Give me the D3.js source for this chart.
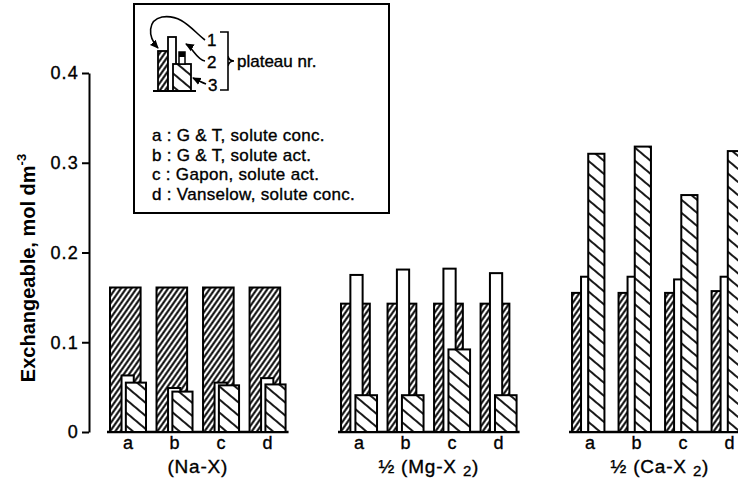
<!DOCTYPE html>
<html>
<head>
<meta charset="utf-8">
<script src="https://cdn.jsdelivr.net/npm/d3@7"></script>
<style>
  html, body { margin: 0; padding: 0; background: #fff; }
  svg text { font-family: "Liberation Sans", Arial, Helvetica, sans-serif; fill: #000; }
  svg text.heavy { stroke: #000; stroke-width: 0.35px; }
</style>
</head>
<body>
<svg id="chart" width="738" height="490"></svg>
<script>
// Exchangeable cation amounts per plateau, for each exchange formulation (a-d)
const groups = ["Na-X", "Mg-X2", "Ca-X2"];
const methods = ["a", "b", "c", "d"];
// plateau 1 (forward hatch), plateau 2 (open), plateau 3 (back hatch); one row per group
const plateau1 = [
  [0.161, 0.161, 0.161, 0.161],
  [0.143, 0.143, 0.143, 0.143],
  [0.155, 0.155, 0.155, 0.157]
];
const plateau2 = [
  [0.063, 0.049, 0.055, 0.060],
  [0.175, 0.181, 0.182, 0.177],
  [0.173, 0.173, 0.170, 0.173]
];
const plateau3 = [
  [0.055, 0.045, 0.052, 0.053],
  [0.041, 0.041, 0.092, 0.041],
  [0.310, 0.318, 0.264, 0.313]
];
const yTicks = [0, 0.1, 0.2, 0.3, 0.4];
const legendLines = [
  "a : G & T, solute conc.",
  "b : G & T, solute act.",
  "c : Gapon, solute act.",
  "d : Vanselow, solute conc."
];

const svg = d3.select("#chart");
const defs = svg.append("defs");

// dense forward hatch "/"
const fwd = defs.append("pattern").attr("id", "hatchFwd")
  .attr("patternUnits", "userSpaceOnUse").attr("width", 4.3).attr("height", 10)
  .attr("patternTransform", "rotate(35)");
fwd.append("rect").attr("width", 4.3).attr("height", 10).attr("fill", "#fff");
fwd.append("line").attr("x1", 2.15).attr("x2", 2.15).attr("y1", 0).attr("y2", 10)
  .attr("stroke", "#000").attr("stroke-width", 2);

// sparse back hatch "\"
const back = defs.append("pattern").attr("id", "hatchBack")
  .attr("patternUnits", "userSpaceOnUse").attr("width", 10).attr("height", 10)
  .attr("patternTransform", "rotate(-50)");
back.append("rect").attr("width", 10).attr("height", 10).attr("fill", "#fff");
back.append("line").attr("x1", 5).attr("x2", 5).attr("y1", 0).attr("y2", 10)
  .attr("stroke", "#000").attr("stroke-width", 1.8);

defs.append("marker").attr("id", "arrow")
  .attr("viewBox", "0 0 10 10").attr("refX", 8).attr("refY", 5)
  .attr("markerWidth", 6).attr("markerHeight", 6).attr("orient", "auto")
  .append("path").attr("d", "M0,1 L9,5 L0,9 z").attr("fill", "#000");

// scales
const y = d3.scaleLinear().domain([0, 0.4]).range([432, 73]);
const gx = d3.scaleBand().domain(groups).range([110, 747.6]).paddingInner(0.24);
const mx = d3.scaleBand().domain(methods).range([0, gx.bandwidth()]).paddingInner(0.226);
const bw = mx.bandwidth();

// horizontal placement of the three plateau bars inside one slot (fractions of slot width)
const slotLayout = [
  { p1: [0, 0.85], p2: [0.32, 0.66], p3: [0.44, 1.0] },
  { p1: [0, 0.80], p2: [0.26, 0.60], p3: [0.40, 1.0] },
  { p1: [0, 0.62], p2: [0.25, 0.46], p3: [0.45, 0.90] }
];

// y axis
const yAxis = svg.append("g").attr("transform", "translate(89,0)")
  .call(d3.axisLeft(y).tickValues(yTicks)
    .tickFormat(d => d === 0 ? "0" : d.toFixed(1))
    .tickSize(7).tickSizeOuter(0).tickPadding(3));
yAxis.select(".domain").attr("stroke", "#000").attr("stroke-width", 2);
yAxis.selectAll(".tick line").attr("stroke", "#000").attr("stroke-width", 2);
yAxis.selectAll(".tick text").attr("font-size", 18).attr("font-family", null)
  .attr("letter-spacing", 1.2).attr("class", "heavy");

// y title
const yTitle = svg.append("text")
  .attr("transform", "translate(35,268) rotate(-90)")
  .attr("text-anchor", "middle").attr("font-size", 20).attr("font-weight", "bold");
yTitle.append("tspan").text("Exchangeable, mol dm");
yTitle.append("tspan").attr("font-size", 13).attr("dy", -9).text("-3");

// bars
groups.forEach((g, gi) => {
  const g0 = gx(g);
  const lay = slotLayout[gi];
  const grp = svg.append("g").attr("class", "group");

  // baseline
  grp.append("line")
    .attr("x1", g0 - 3).attr("x2", g0 + gx.bandwidth() + 3)
    .attr("y1", y(0)).attr("y2", y(0))
    .attr("stroke", "#000").attr("stroke-width", 2.4);

  methods.forEach((m, mi) => {
    const s0 = g0 + mx(m);
    const specs = [
      { v: plateau1[gi][mi], span: lay.p1, fill: "url(#hatchFwd)" },
      { v: plateau2[gi][mi], span: lay.p2, fill: "#fff" },
      { v: plateau3[gi][mi], span: lay.p3, fill: "url(#hatchBack)" }
    ];
    specs.forEach(sp => {
      grp.append("rect")
        .attr("x", s0 + sp.span[0] * bw)
        .attr("width", (sp.span[1] - sp.span[0]) * bw)
        .attr("y", y(sp.v))
        .attr("height", y(0) - y(sp.v))
        .attr("fill", sp.fill)
        .attr("stroke", "#000").attr("stroke-width", 2);
    });

    grp.append("text").attr("class", "heavy")
      .attr("x", s0 + bw / 2).attr("y", 449)
      .attr("text-anchor", "middle").attr("font-size", 18)
      .text(m);
  });

  // group label
  const lbl = grp.append("text").attr("class", "heavy")
    .attr("x", g0 + gx.bandwidth() / 2).attr("y", 473)
    .attr("text-anchor", "middle").attr("font-size", 19).attr("letter-spacing", 0.8);
  if (gi === 0) {
    lbl.text("(Na-X)");
  } else {
    lbl.append("tspan").text(gi === 1 ? "½ (Mg-X " : "½ (Ca-X ");
    lbl.append("tspan").attr("font-size", 15).attr("dy", 3).text("2");
    lbl.append("tspan").attr("dy", -3).text(")");
  }
});

// legend box
const leg = svg.append("g").attr("class", "legend");
leg.append("rect").attr("x", 134).attr("y", 4).attr("width", 255).attr("height", 209)
  .attr("fill", "#fff").attr("stroke", "#000").attr("stroke-width", 2);

// schematic of the three plateau bars
leg.append("rect").attr("x", 158).attr("y", 51).attr("width", 10).attr("height", 40)
  .attr("fill", "url(#hatchFwd)").attr("stroke", "#000").attr("stroke-width", 1.8);
leg.append("rect").attr("x", 168).attr("y", 37).attr("width", 8).attr("height", 54)
  .attr("fill", "#fff").attr("stroke", "#000").attr("stroke-width", 1.8);
leg.append("rect").attr("x", 173).attr("y", 64).attr("width", 18).attr("height", 27)
  .attr("fill", "url(#hatchBack)").attr("stroke", "#000").attr("stroke-width", 1.8);
leg.append("rect").attr("x", 179).attr("y", 52).attr("width", 6).attr("height", 12)
  .attr("fill", "#fff").attr("stroke", "#000").attr("stroke-width", 1.5);
leg.append("rect").attr("x", 179).attr("y", 52).attr("width", 6).attr("height", 5)
  .attr("fill", "#000");
leg.append("line").attr("x1", 153).attr("x2", 196).attr("y1", 91).attr("y2", 91)
  .attr("stroke", "#000").attr("stroke-width", 2);

// pointers to the plateau numbers
leg.append("path")
  .attr("d", "M205,40 C192,30 182,14 162,17 C148,20 147,36 158,48")
  .attr("fill", "none").attr("stroke", "#000").attr("stroke-width", 1.6)
  .attr("marker-end", "url(#arrow)");
leg.append("path")
  .attr("d", "M205,61 C197,60 193,48 186,44")
  .attr("fill", "none").attr("stroke", "#000").attr("stroke-width", 1.6)
  .attr("marker-end", "url(#arrow)");
leg.append("path")
  .attr("d", "M206,84 C201,82 197,80 193,78")
  .attr("fill", "none").attr("stroke", "#000").attr("stroke-width", 1.6)
  .attr("marker-end", "url(#arrow)");
[["1", 207, 46], ["2", 207, 68], ["3", 208, 91]].forEach(([t, x, yy]) => {
  leg.append("text").attr("class", "heavy").attr("x", x).attr("y", yy)
    .attr("font-size", 17).text(t);
});
leg.append("path")
  .attr("d", "M220,32 H228 V90 H220 M228,56 Q229,61 234,61 Q229,61 228,66")
  .attr("fill", "none").attr("stroke", "#000").attr("stroke-width", 1.6);
leg.append("text").attr("class", "heavy").attr("x", 237).attr("y", 67)
  .attr("font-size", 17).text("plateau nr.");

legendLines.forEach((t, i) => {
  leg.append("text").attr("class", "heavy").attr("x", 152).attr("y", 141 + i * 19.7)
    .attr("font-size", 17).attr("letter-spacing", 0.3).text(t);
});
</script>
</body>
</html>
